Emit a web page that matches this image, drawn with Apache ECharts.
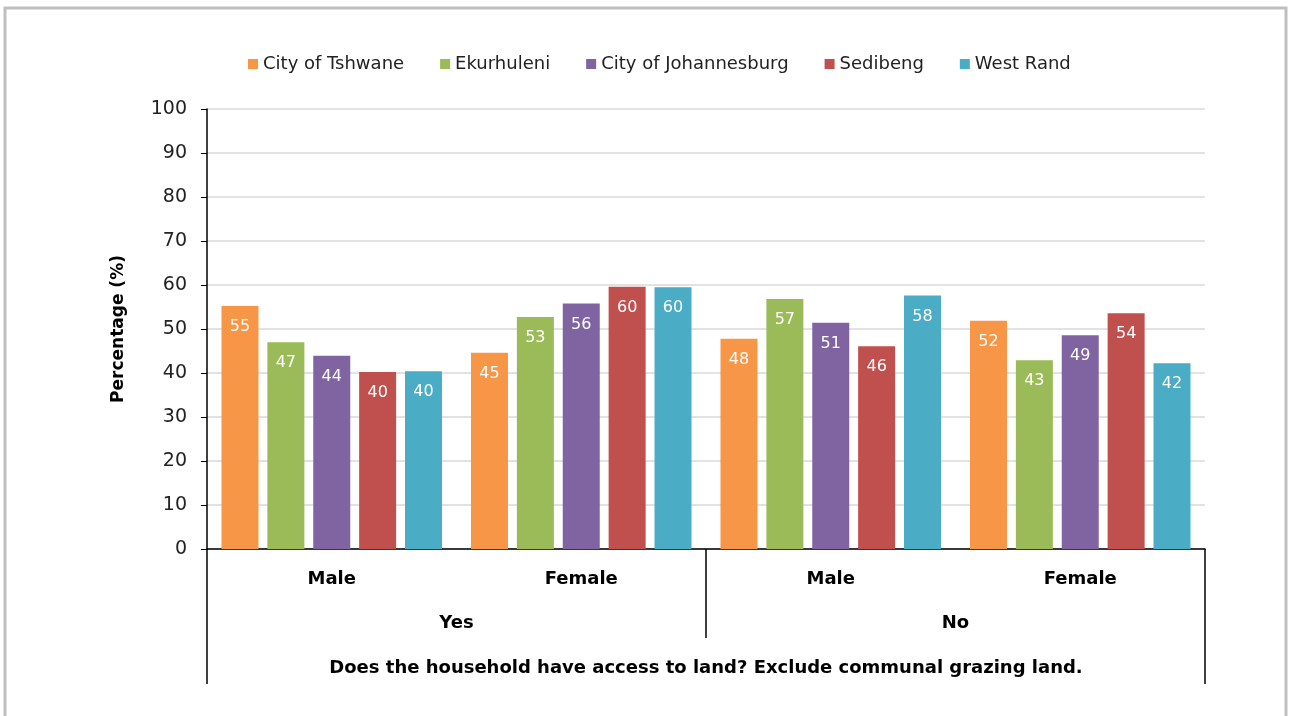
<!DOCTYPE html>
<html>
<head>
<meta charset="utf-8">
<script src="https://cdn.jsdelivr.net/npm/echarts@6/dist/echarts.min.js"></script>
<style>
  html, body { margin: 0; padding: 0; background: #fff; }
  #chart { width: 1290px; height: 716px; }
</style>
</head>
<body>
<div id="chart"></div>
<script>
// categories
const sexLabels = ["Male", "Female", "Male", "Female"];
const accessLabels = ["Yes", "No"];
const questionLabel = ["Does the household have access to land? Exclude communal grazing land."];

// series values (percent)
const tshwane = [55.2, 44.6, 47.8, 51.9];
const ekurhuleni = [47.0, 52.7, 56.8, 42.9];
const johannesburg = [43.9, 55.8, 51.4, 48.6];
const sedibeng = [40.2, 59.6, 46.1, 53.6];
const westRand = [40.4, 59.5, 57.6, 42.2];

const seriesNames = ["City of Tshwane", "Ekurhuleni", "City of Johannesburg", "Sedibeng", "West Rand"];
const seriesData = [tshwane, ekurhuleni, johannesburg, sedibeng, westRand];
const colors = ["#F79646", "#9BBB59", "#8064A2", "#C0504D", "#4BACC6"];

const font = "DejaVu Sans";

const chart = echarts.init(document.getElementById("chart"));

chart.setOption({
  animation: false,
  textStyle: { fontFamily: font },
  graphic: [
    {
      // outer frame
      type: "rect",
      shape: { x: 5, y: 8, width: 1281, height: 760 },
      style: { fill: "none", stroke: "#bfbfbf", lineWidth: 3 },
      silent: true,
    },
  ],
  legend: {
    top: 50,
    left: 243,
    itemWidth: 10,
    itemHeight: 10,
    itemGap: 36,
    icon: "rect",
    textStyle: { fontSize: 18, color: "#222", fontFamily: font },
    data: seriesNames,
  },
  grid: {
    left: 207,
    right: 85,
    top: 109,
    bottom: 167,
  },
  xAxis: [
    {
      type: "category",
      position: "bottom",
      data: sexLabels,
      axisLine: { show: true, lineStyle: { color: "#000", width: 1.5 } },
      axisTick: { show: false },
      axisLabel: { margin: 21, fontSize: 18, fontWeight: "bold", color: "#000", fontFamily: font },
    },
    {
      type: "category",
      position: "bottom",
      data: accessLabels,
      axisLine: { show: false },
      axisTick: { show: true, length: 89, lineStyle: { color: "#000", width: 1.5 } },
      axisLabel: { margin: 65, fontSize: 18, fontWeight: "bold", color: "#000", fontFamily: font },
    },
    {
      type: "category",
      position: "bottom",
      data: questionLabel,
      axisLine: { show: false },
      axisTick: { show: true, length: 135, lineStyle: { color: "#000", width: 1.5 } },
      axisLabel: { margin: 110, fontSize: 18, fontWeight: "bold", color: "#000", fontFamily: font },
    },
  ],
  yAxis: {
    type: "value",
    min: 0,
    max: 100,
    interval: 10,
    name: "Percentage (%)",
    nameLocation: "middle",
    nameGap: 80,
    nameTextStyle: { fontSize: 17, fontWeight: "bold", color: "#000", fontFamily: font },
    axisLine: { show: true, lineStyle: { color: "#000", width: 1.5 } },
    axisTick: { show: true, length: 6, lineStyle: { color: "#000" } },
    axisLabel: { fontSize: 19, color: "#222", margin: 20, fontFamily: font },
    splitLine: { lineStyle: { color: "#d9d9d9", width: 1.5 } },
  },
  series: seriesNames.map((name, i) => ({
    name: name,
    type: "bar",
    xAxisIndex: 0,
    data: seriesData[i],
    barWidth: 37,
    barGap: "24%",
    itemStyle: { color: colors[i] },
    label: {
      show: true,
      position: "insideTop",
      distance: 13,
      color: "#fff",
      fontSize: 16,
      fontFamily: font,
      formatter: (p) => Math.round(p.value),
    },
  })),
});
</script>
</body>
</html>
